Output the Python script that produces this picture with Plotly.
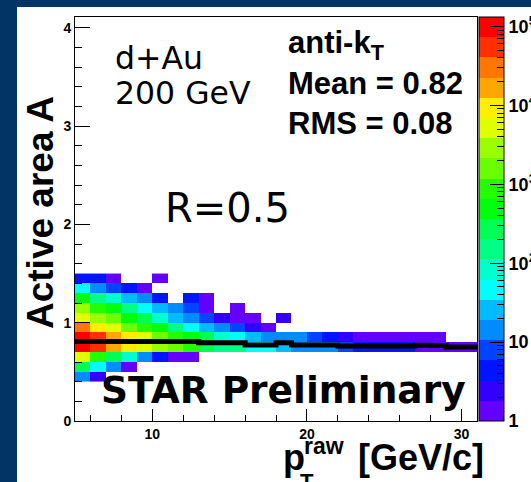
import colorsys
import math

import plotly.graph_objects as go

# Binning: 1 GeV/c in raw pT, 0.1 in active area
pt_edges = list(range(5, 32))
area_edges = [round(0.4 + 0.1 * i, 1) for i in range(12)]

N = None
# Jet counts per (area bin, pT bin); one list per area row, lowest row first
counts_040 = [14, 2] + [N] * 24
counts_050 = [270, 46, 14, 1] + [N] * 22
counts_060 = [5200, 880, 270, 83, 14, 4, 1, 1] + [N] * 18
counts_070 = [98000, 54000, 17000, 9300, 5200, 2900, 1600, 880, 270, 150, 150, 46, 46,
              26, 14, 14, 14, 8, 4, 4, 4, 4, 1, 1, 1, 1]
counts_080 = [98000, 54000, 17000, 9300, 5200, 1600, 880, 490, 270, 83, 46, 26, 14,
              14, 14, 8, 4, 2, 1, 1, 1, 1, 1, 1, N, N]
counts_090 = [30000, 9300, 5200, 1600, 880, 490, 150, 46, 26, 14, 8, 2, 1] + [N] * 13
counts_100 = [5200, 2900, 1600, 490, 270, 83, 26, 14, 8, 2, 1, 1, N, 2] + [N] * 12
counts_110 = [2900, 880, 490, 150, 46, 26, 14, 8, 1, N, 1] + [N] * 15
counts_120 = [490, 150, 83, 26, 14, 4, N, 4, 1] + [N] * 17
counts_130 = [46, 14, 8, 4, 1] + [N] * 21
counts_140 = [4, 4, 1, N, N, 1] + [N] * 20

# Mean active area per pT bin (profile)
mean_area = [0.81, 0.81, 0.81, 0.81, 0.81, 0.81, 0.81, 0.81,
             0.797, 0.797, 0.797, 0.772, 0.772, 0.795, 0.772, 0.772, 0.772,
             0.763, 0.763, 0.763, 0.763, 0.763, 0.77, 0.768, 0.752, 0.752]

# Colour-axis tick labels (log10 of counts)
cb_tickvals = [0, 1, 2, 3, 4, 5]
cb_ticktext = ["1", "10", "10<sup>2</sup>", "10<sup>3</sup>", "10<sup>4</sup>", "10<sup>5</sup>"]
log_zmax = 5.12

rows = [counts_040, counts_050, counts_060, counts_070, counts_080, counts_090,
        counts_100, counts_110, counts_120, counts_130, counts_140]
z = [[(math.log10(v) if v else None) for v in row] for row in rows]


def band_colors(n_levels=20, n_colors=50):
    """Violet->red spectrum sampled into n_levels contour bands."""
    out = []
    for k in range(n_levels):
        idx = int((k + 0.99) * n_colors / n_levels)
        hue = max(0.0, 280.0 - (idx + 1) * 280.0 / n_colors)
        r, g, b = colorsys.hls_to_rgb(hue / 360.0, 0.5, 1.0)
        out.append(f"rgb({round(r * 255)},{round(g * 255)},{round(b * 255)})")
    return out


bands = band_colors()
colorscale = []
for k, c in enumerate(bands):
    colorscale.append([k / len(bands), c])
    colorscale.append([(k + 1) / len(bands), c])

# Plot-area geometry in pixels
W, H = 531, 482
L, R, T, B = 75, 477, 17, 421


def px(x):
    return (x - L) / (R - L)


def py(y):
    return (B - y) / (B - T)


fig = go.Figure()

fig.add_trace(go.Heatmap(
    x=pt_edges, y=area_edges, z=z,
    zmin=0, zmax=log_zmax, colorscale=colorscale,
    hoverinfo="skip",
    colorbar=dict(
        x=px(479), xanchor="left", xpad=0, y=0.5, yanchor="middle", ypad=0,
        len=1, lenmode="fraction", thickness=25, thicknessmode="pixels",
        outlinecolor="black", outlinewidth=1,
        tickvals=cb_tickvals, ticktext=cb_ticktext,
        ticks="inside", ticklen=14, tickcolor="black", tickwidth=1,
        tickfont=dict(family="Liberation Sans", size=18, color="black", weight="bold"),
    ),
))

# minor log ticks on the colour axis
minor_vals = [math.log10(m * 10 ** d) for d in range(0, 6) for m in range(2, 10)
              if math.log10(m * 10 ** d) < log_zmax]
fig.add_trace(go.Scatter(
    x=[None], y=[None], mode="markers", hoverinfo="skip", showlegend=False,
    marker=dict(color=[0], cmin=0, cmax=log_zmax,
                colorscale=[[0, "rgba(0,0,0,0)"], [1, "rgba(0,0,0,0)"]],
                showscale=True,
                colorbar=dict(
                    x=px(479), xanchor="left", xpad=0, y=0.5, yanchor="middle", ypad=0,
                    len=1, lenmode="fraction", thickness=25, thicknessmode="pixels",
                    outlinewidth=0, tickvals=minor_vals, showticklabels=False,
                    ticks="inside", ticklen=7, tickcolor="black", tickwidth=1,
                )),
))

# profile drawn as a thick step line
fig.add_trace(go.Scatter(
    x=pt_edges, y=mean_area + [mean_area[-1]],
    mode="lines", line=dict(color="black", width=5, shape="hv"),
    hoverinfo="skip", showlegend=False,
))

axis_font = dict(family="Liberation Sans", size=14, color="black", weight="bold")
fig.update_xaxes(
    range=[5, 31], tickvals=[10, 20, 30], ticks="inside", ticklen=12, tickwidth=1,
    tickcolor="black", showline=True, linecolor="black", linewidth=1, mirror=True,
    showgrid=False, zeroline=False, tickfont=axis_font,
    minor=dict(ticks="inside", dtick=2, tick0=0, ticklen=6, tickcolor="black", showgrid=False),
)
fig.update_yaxes(
    range=[0, 4.11], tickvals=[0, 1, 2, 3, 4], ticks="inside", ticklen=15, tickwidth=1,
    tickcolor="black", showline=True, linecolor="black", linewidth=1, mirror=True,
    showgrid=False, zeroline=False, tickfont=axis_font,
    minor=dict(ticks="inside", dtick=0.2, tick0=0, ticklen=7, tickcolor="black", showgrid=False),
)

dejavu = "DejaVu Sans"
helv = "Liberation Sans"


def label(text, x, y, size, family, xanchor="left", bold=False, angle=0, yanchor="middle"):
    fig.add_annotation(
        text=text, x=px(x), y=py(y), xref="paper", yref="paper",
        xanchor=xanchor, yanchor=yanchor, showarrow=False, textangle=angle,
        font=dict(family=family, size=size, color="black", weight="bold" if bold else "normal"),
    )


label("d+Au", 113, 58, 31.5, dejavu)
label("200 GeV", 113, 93, 31.5, dejavu)
label("R=0.5", 163, 208, 40, dejavu)
label("anti-k<sub>T</sub>", 286, 45, 31, helv, bold=True)
label("Mean = 0.82", 286, 83, 31, helv, bold=True)
label("RMS = 0.08", 286, 123, 31, helv, bold=True)
label("STAR Preliminary", 99, 390, 37.5, dejavu, bold=True)
label("Active area A", 40, 213, 37, helv, xanchor="center", bold=True, angle=-90)

# x-axis title with stacked sub/superscript
label("p", 281, 457, 36, helv, bold=True)
label("raw", 302, 446, 23, helv, bold=True)
label("T", 298, 482, 22, helv, bold=True)
label("[GeV/c]", 356, 457, 36, helv, bold=True)

fig.update_layout(
    width=W, height=H,
    margin=dict(l=L, r=W - R, t=T, b=H - B, pad=0, autoexpand=False),
    paper_bgcolor="#023466", plot_bgcolor="white",
    showlegend=False, hovermode=False,
    shapes=[dict(type="rect", xref="paper", yref="paper",
                 x0=px(17), x1=px(W + 5), y0=py(H + 5), y1=py(7),
                 fillcolor="white", line=dict(width=0), layer="below")],
)

fig.write_html("out.html")
